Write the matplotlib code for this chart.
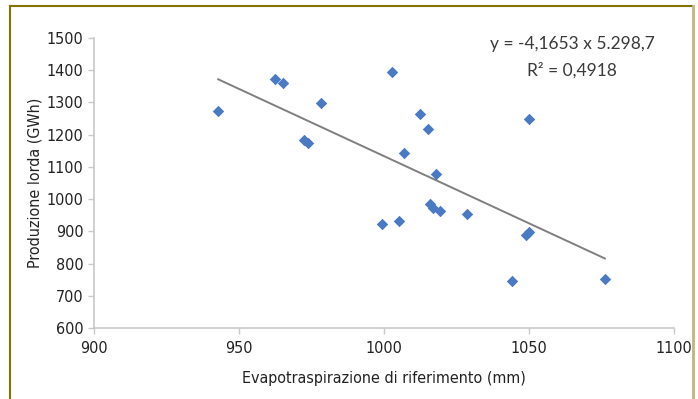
import matplotlib
matplotlib.use('Agg')
import matplotlib.pyplot as plt
import numpy as np
from matplotlib.lines import Line2D
from matplotlib import font_manager

# evapotraspirazione di riferimento (mm) vs produzione lorda (GWh)
evapo = [942.9, 962.4, 965.3, 978.2, 972.4, 973.9, 1002.6, 1012.4, 1015.1, 1007.0,
         1017.9, 1050.1, 999.4, 1005.3, 1015.8, 1017.0, 1019.3, 1028.5, 1048.8, 1050.0,
         1044.2, 1076.1]
produzione = [1273, 1372, 1359, 1297, 1183, 1173, 1393, 1263, 1218, 1142,
              1078, 1249, 923, 931, 985, 972, 963, 953, 890, 897,
              747, 754]
slope = -4.1653
intercept = 5298.7
r2 = 0.4918

xticks = [900, 950, 1000, 1050, 1100]
yticks = [600, 700, 800, 900, 1000, 1100, 1200, 1300, 1400, 1500]

narrow = font_manager.FontProperties(family='DejaVu Sans', stretch='condensed', size=11.5)

fig = plt.figure(figsize=(6.98, 3.99), dpi=100)
ax = fig.add_axes([0.1342, 0.177, 0.8318, 0.7285])

ax.scatter(evapo, produzione, marker='D', s=34, color='#4a7ac4', zorder=3, linewidths=0)

# linear trend line across the data range
xt = np.array([min(evapo), max(evapo)])
ax.plot(xt, slope * xt + intercept, color='#7f7f7f', lw=1.4, zorder=2)

ax.set_xlim(900, 1100)
ax.set_ylim(600, 1500)
ax.set_xticks(xticks)
ax.set_yticks(yticks)
for s in ['top', 'right']:
    ax.spines[s].set_visible(False)
for s in ['left', 'bottom']:
    ax.spines[s].set_color('#c8c8c8')
    ax.spines[s].set_linewidth(1.2)
ax.tick_params(axis='both', colors='#c8c8c8', length=4, width=1, labelcolor='#222222')
ax.tick_params(axis='x', pad=5)
for lab in ax.get_xticklabels() + ax.get_yticklabels():
    lab.set_fontproperties(narrow)

ax.set_xlabel('Evapotraspirazione di riferimento (mm)', fontproperties=narrow,
              color='#222222', labelpad=11)
ax.set_ylabel('Produzione lorda (GWh)', fontproperties=narrow, color='#222222',
              labelpad=3)

eq = 'y = %s x %s' % (str(slope).replace('.', ','), '5.298,7')
ax.text(0.824, 0.978, eq, transform=ax.transAxes, ha='center',
        va='center', fontsize=12.5, family=['Lato', 'DejaVu Sans'],
        color='#3a3a3a')
ax.text(0.823, 0.887, 'R² = ' + str(r2).replace('.', ','), transform=ax.transAxes,
        ha='center', va='center', fontsize=12.5, family=['Lato', 'DejaVu Sans'],
        color='#3a3a3a')

# frame around the figure
fig.add_artist(Line2D([9.5 / 698, 9.5 / 698], [0, 1 - 6 / 399], color='#857300', lw=1.5))
fig.add_artist(Line2D([9.5 / 698, 692 / 698], [1 - 6 / 399, 1 - 6 / 399], color='#857300', lw=1.5))
fig.add_artist(Line2D([692.5 / 698, 692.5 / 698], [0, 1 - 6 / 399], color='#c2b57c', lw=2))

fig.savefig('out.png', dpi=100)
